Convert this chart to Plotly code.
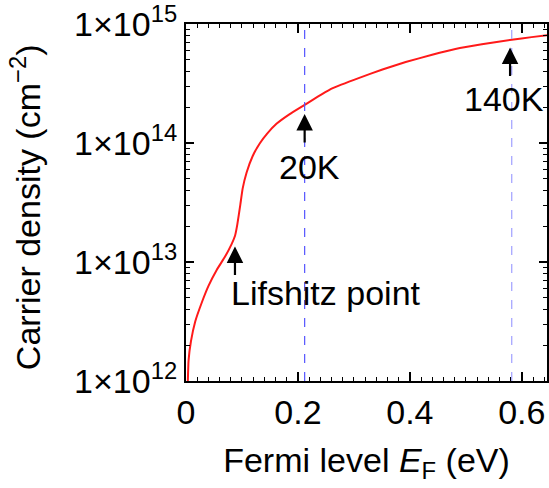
import plotly.graph_objects as go

# Fermi level (eV) and carrier density (cm^-2)
fermi_level = [0.0033, 0.0046, 0.0089, 0.0165, 0.0284, 0.0402, 0.0551, 0.0698,
               0.0817, 0.0876, 0.0917, 0.097, 0.1012, 0.1083, 0.119, 0.132,
               0.145, 0.1616, 0.1853, 0.2119, 0.2416, 0.2622, 0.3096, 0.351,
               0.3925, 0.4398, 0.4813, 0.5286, 0.5819, 0.6174, 0.6453]
carrier_density = [1.0e12, 1.49e12, 2.16e12, 3.16e12, 4.59e12, 6.30e12, 8.61e12, 1.11e13,
                   1.42e13, 1.66e13, 2.07e13, 3.02e13, 4.14e13, 5.65e13, 7.74e13, 9.95e13,
                   1.20e14, 1.45e14, 1.75e14, 2.09e14, 2.55e14, 2.89e14, 3.53e14, 4.15e14,
                   4.79e14, 5.52e14, 6.17e14, 6.76e14, 7.38e14, 7.76e14, 8.04e14]

# Fermi levels marked by dashed guides
temp_levels = [0.212, 0.582]
guide_colors = ["#5555ff", "#a0a0ff"]

# Arrow tips (log10 density) and label positions
arrow_x = [0.0875, 0.212, 0.579]
arrow_logy = [13.131, 14.243, 14.802]
label_text = ["Lifshitz point", "20K", "140K"]
label_x = [0.2504, 0.221, 0.5686]
label_logy = [12.74, 13.80, 14.37]

y_tickvals = [1e12, 1e13, 1e14, 1e15]
y_ticktext = ["1×10<sup>12</sup>", "1×10<sup>13</sup>", "1×10<sup>14</sup>", "1×10<sup>15</sup>"]
y_minor = [m * 10 ** e for e in (12, 13, 14) for m in range(2, 10)]

FONT = "Liberation Sans, Arial, sans-serif"
FS = 34

fig = go.Figure()
fig.add_trace(go.Scatter(x=fermi_level, y=carrier_density, mode="lines",
                         line=dict(color="#ff1a1a", width=2, shape="spline", smoothing=0.4),
                         showlegend=False))

for xv, col in zip(temp_levels, guide_colors):
    fig.add_shape(type="line", x0=xv, x1=xv, y0=0, y1=1, xref="x", yref="paper",
                  line=dict(color=col, width=1.2, dash="dash"))

for xv, ly in zip(arrow_x, arrow_logy):
    fig.add_annotation(x=xv, y=ly, xref="x", yref="y", text="", showarrow=True,
                       axref="pixel", ayref="pixel", ax=0, ay=30,
                       arrowhead=2, arrowsize=1.5, arrowwidth=2.2, arrowcolor="black")

for t, xv, ly in zip(label_text, label_x, label_logy):
    fig.add_annotation(x=xv, y=ly, xref="x", yref="y", text=t, showarrow=False,
                       font=dict(size=FS, color="black", family=FONT))

fig.add_annotation(x=-0.445, y=0.488, xref="paper", yref="paper", textangle=-90,
                   xanchor="center", yanchor="middle",
                   text="Carrier density (cm<sup>−2</sup>)", showarrow=False,
                   font=dict(size=FS, color="black", family=FONT))

fig.update_xaxes(range=[0, 0.645], showline=True, linecolor="black", linewidth=2,
                 mirror="ticks", ticks="inside", ticklen=9, tickwidth=1.5, tickcolor="black",
                 tickvals=[0, 0.2, 0.4, 0.6], ticktext=["0", "0.2", "0.4", "0.6"],
                 minor=dict(ticks="inside", ticklen=4, tickwidth=1.2, tickcolor="black", dtick=0.02),
                 showgrid=False, zeroline=False, ticklabeloverflow="allow",
                 tickfont=dict(size=FS, color="black", family=FONT),
                 title=dict(text="Fermi level <i>E</i><sub>F</sub> (eV)", standoff=18,
                            font=dict(size=FS, color="black", family=FONT)))
fig.update_yaxes(type="log", range=[11.9999, 15.0001], showline=True, linecolor="black", linewidth=2,
                 mirror="ticks", ticks="inside", ticklen=8, tickwidth=1.5, tickcolor="black",
                 tickvals=y_tickvals, ticktext=y_ticktext,
                 minor=dict(ticks="inside", ticklen=4, tickwidth=1.2, tickcolor="black",
                            tickvals=y_minor),
                 showgrid=False, zeroline=False, ticklabeloverflow="allow",
                 tickfont=dict(size=FS, color="black", family=FONT))

fig.update_layout(width=549, height=488, margin=dict(l=186, r=0, t=14, b=107),
                  plot_bgcolor="white", paper_bgcolor="white")

fig.write_html("out.html")
